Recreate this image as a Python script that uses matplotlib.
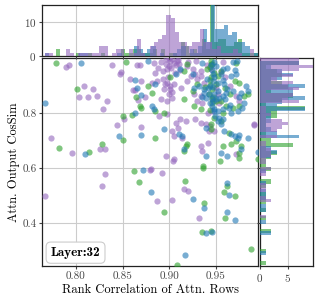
import matplotlib
matplotlib.use("Agg")
import matplotlib.pyplot as plt
import numpy as np

plt.rcParams["font.family"] = ["cmr10", "DejaVu Serif"]
plt.rcParams["axes.formatter.use_mathtext"] = True
plt.rcParams["mathtext.fontset"] = "cm"

# (rank correlation, cosine similarity) per head, three groups
purple_x = [0.884, 0.891, 0.896, 0.901, 0.905, 0.909, 0.910, 0.903, 0.907, 0.900,
            0.893, 0.898, 0.885, 0.919, 0.925, 0.928, 0.934, 0.882, 0.887, 0.893,
            0.898, 0.901, 0.905, 0.919, 0.923, 0.930, 0.934, 0.937, 0.894, 0.900,
            0.903, 0.898, 0.891, 0.901, 0.889, 0.898, 0.927, 0.934, 0.930, 0.935,
            0.952, 0.953, 0.971, 0.975, 0.941, 0.946, 0.912, 0.918, 0.907, 0.909,
            0.903, 0.905, 0.914, 0.928, 0.934, 0.939, 0.944, 0.943, 0.948, 0.991,
            0.934, 0.941, 0.935, 0.971, 0.896, 0.905,
            0.897, 0.902, 0.906, 0.899, 0.911, 0.888, 0.895, 0.903, 0.913, 0.908,
            0.900, 0.920, 0.929, 0.940, 0.945, 0.955, 0.960, 0.965, 0.950, 0.958,
            0.790, 0.793, 0.839, 0.848, 0.847, 0.866, 0.869, 0.858, 0.870, 0.809,
            0.818, 0.803, 0.813, 0.823, 0.833, 0.829, 0.861, 0.863, 0.867, 0.874,
            0.852, 0.844, 0.870, 0.773, 0.796, 0.826, 0.831, 0.831, 0.828, 0.767,
            0.879, 0.904, 0.881, 0.892, 0.916, 0.920, 0.887, 0.903, 0.932, 0.991]
purple_y = [0.983, 0.985, 0.995, 0.989, 0.983, 0.992, 0.977, 0.998, 0.973, 0.971,
            0.953, 0.959, 0.947, 0.971, 0.959, 0.940, 0.953, 0.910, 0.916, 0.922,
            0.910, 0.898, 0.904, 0.916, 0.934, 0.922, 0.934, 0.910, 0.886, 0.868,
            0.856, 0.844, 0.850, 0.886, 0.789, 0.795, 0.868, 0.862, 0.844, 0.838,
            0.868, 0.838, 0.862, 0.844, 0.801, 0.807, 0.777, 0.771, 0.765, 0.747,
            0.735, 0.717, 0.711, 0.777, 0.765, 0.759, 0.753, 0.735, 0.735, 0.759,
            0.680, 0.692, 0.662, 0.650, 0.644, 0.632,
            0.978, 0.962, 0.945, 0.930, 0.955, 0.965, 0.905, 0.875, 0.890, 0.990,
            0.999, 0.985, 0.990, 0.975, 0.960, 0.950, 0.930, 0.900, 0.890, 0.985,
            0.968, 0.973, 0.975, 0.949, 0.941, 0.973, 0.973, 0.925, 0.917, 0.900,
            0.888, 0.859, 0.859, 0.862, 0.844, 0.815, 0.883, 0.883, 0.846, 0.857,
            0.777, 0.755, 0.749, 0.710, 0.656, 0.670, 0.668, 0.578, 0.535, 0.499,
            0.595, 0.625, 0.596, 0.583, 0.526, 0.516, 0.479, 0.483, 0.419, 0.756]

blue_x = [0.907, 0.912, 0.935, 0.950, 0.957, 0.968, 0.972, 0.955, 0.966, 0.971,
          0.885, 0.927, 0.932, 0.937, 0.941, 0.952, 0.959, 0.962, 0.968, 0.977,
          0.984, 0.882, 0.884, 0.937, 0.939, 0.943, 0.944, 0.950, 0.953, 0.957,
          0.961, 0.948, 0.952, 0.957, 0.964, 0.978, 0.980, 0.966, 0.973, 0.910,
          0.914, 0.894, 0.939, 0.952, 0.955, 0.953, 0.957, 0.959, 0.966, 0.970,
          0.973, 0.975, 0.916, 0.939, 0.955, 0.962, 0.977, 0.984,
          0.945, 0.962, 0.940, 0.948, 0.958, 0.970, 0.925, 0.944, 0.952, 0.960,
          0.935, 0.947, 0.965, 0.975, 0.982,
          0.946, 0.947, 0.948, 0.946, 0.949, 0.947, 0.948, 0.947, 0.946, 0.948,
          0.806, 0.877, 0.863, 0.866, 0.870, 0.767, 0.863, 0.846, 0.870, 0.810,
          0.872, 0.880, 0.925, 0.937, 0.962, 0.964, 0.962, 0.970, 0.939, 0.946,
          0.917, 0.995]
blue_y = [0.940, 0.959, 0.983, 0.971, 0.959, 0.985, 0.989, 0.940, 0.934, 0.940,
          0.904, 0.892, 0.898, 0.886, 0.892, 0.910, 0.904, 0.886, 0.880, 0.874,
          0.880, 0.825, 0.813, 0.874, 0.856, 0.868, 0.838, 0.850, 0.856, 0.862,
          0.874, 0.813, 0.807, 0.813, 0.819, 0.819, 0.838, 0.801, 0.807, 0.723,
          0.717, 0.741, 0.747, 0.771, 0.759, 0.783, 0.777, 0.735, 0.723, 0.717,
          0.711, 0.719, 0.668, 0.644, 0.656, 0.644, 0.668, 0.711,
          0.975, 0.965, 0.925, 0.930, 0.920, 0.955, 0.940, 0.900, 0.880, 0.850,
          0.860, 0.845, 0.830, 0.860, 0.900,
          0.955, 0.915, 0.870, 0.826, 0.790, 0.940, 0.985, 0.895, 0.853, 0.808,
          0.983, 0.989, 0.919, 0.890, 0.864, 0.838, 0.801, 0.715, 0.720, 0.652,
          0.593, 0.512, 0.487, 0.457, 0.547, 0.504, 0.441, 0.411, 0.364, 0.367,
          0.286, 0.659]

green_x = [0.901, 0.919, 0.916, 0.946, 0.971, 0.955, 0.882, 0.946, 0.970, 0.975,
           0.980, 0.984, 0.916, 0.894, 0.885, 0.950, 0.955, 0.961, 0.968, 0.975,
           0.927, 0.934, 0.885, 0.948, 0.955, 0.964, 0.971, 0.977, 0.918, 0.919,
           0.916, 0.957, 0.966, 0.975, 0.975,
           0.940, 0.948, 0.944, 0.950, 0.938, 0.943, 0.947, 0.960, 0.952, 0.930,
           0.925, 0.965, 0.958, 0.945,
           0.944, 0.945, 0.946, 0.944, 0.945, 0.945, 0.944, 0.946, 0.945,
           0.779, 0.854, 0.801, 0.877, 0.864, 0.869, 0.870, 0.860, 0.851, 0.851,
           0.782, 0.814, 0.828, 0.862, 0.868, 0.936, 0.936, 0.954, 0.917, 0.894,
           0.937, 0.962, 0.959, 0.970, 0.960, 0.935, 0.945, 0.987, 0.908, 0.995]
green_y = [0.932, 0.977, 0.953, 0.977, 0.983, 0.953, 0.874, 0.886, 0.916, 0.910,
           0.862, 0.868, 0.852, 0.801, 0.807, 0.844, 0.844, 0.825, 0.819, 0.825,
           0.825, 0.813, 0.711, 0.783, 0.771, 0.729, 0.698, 0.680, 0.680, 0.686,
           0.662, 0.680, 0.686, 0.656, 0.638,
           0.960, 0.945, 0.920, 0.905, 0.895, 0.870, 0.860, 0.890, 0.935, 0.905,
           0.880, 0.870, 0.800, 0.990,
           0.968, 0.932, 0.850, 0.812, 0.760, 0.978, 0.902, 0.835, 0.742,
           0.983, 0.987, 0.888, 0.900, 0.859, 0.825, 0.818, 0.792, 0.789, 0.701,
           0.674, 0.659, 0.688, 0.589, 0.548, 0.607, 0.599, 0.627, 0.552, 0.441,
           0.474, 0.537, 0.512, 0.498, 0.418, 0.368, 0.372, 0.305, 0.247, 0.635]

groups = [
    (purple_x, purple_y, "#9467bd"),
    (green_x, green_y, "#2ca02c"),
    (blue_x, blue_y, "#1f77b4"),
]

fig = plt.figure(figsize=(3.19, 3.05), dpi=100)
ax = fig.add_axes([0.132, 0.128, 0.677, 0.682])
ax_top = fig.add_axes([0.132, 0.816, 0.677, 0.168], sharex=ax)
ax_right = fig.add_axes([0.815, 0.128, 0.166, 0.682], sharey=ax)

for xs, ys, c in groups:
    ax.scatter(xs, ys, s=20, color=c, alpha=0.6, linewidths=0, zorder=3)

for xs, ys, c in [groups[1], groups[2], groups[0]]:
    ax_top.hist(xs, bins=50, color=c, alpha=0.6, zorder=3)
    ax_right.hist(ys, bins=50, color=c, alpha=0.6, orientation="horizontal", zorder=3)

ax.set_xlim(0.764, 0.995)
ax.set_ylim(0.245, 1.0)
ax.set_xticks([0.80, 0.85, 0.90, 0.95])
ax.set_xticklabels(["0.80", "0.85", "0.90", "0.95"])
ax.set_yticks([0.4, 0.6, 0.8])
ax.set_yticklabels(["0.4", "0.6", "0.8"])
ax.set_xlabel("Rank Correlation of Attn. Rows", fontsize=9, labelpad=2)
ax.set_ylabel("Attn. Output CosSim", fontsize=9, labelpad=2)

ax_top.set_ylim(0, 14.9)
ax_top.set_yticks([0, 10])
ax_top.tick_params(axis="x", labelbottom=False, length=0)
ax_right.set_xlim(0, 9.5)
ax_right.set_xticks([0, 5])
ax_right.tick_params(axis="y", labelleft=False, length=2)

for a in (ax, ax_top, ax_right):
    a.grid(True, color="#cccccc", linewidth=0.8, zorder=0)
    a.set_axisbelow(True)
    a.tick_params(labelsize=8, length=2, pad=2, colors="#444444")
    for sp in a.spines.values():
        sp.set_color("#222222")
        sp.set_linewidth(0.9)

ax.text(0.04, 0.035, "Layer:32", transform=ax.transAxes, fontsize=9.5,
        family=["cmb10", "DejaVu Serif"], fontweight="bold", va="bottom", ha="left",
        bbox=dict(boxstyle="round,pad=0.35", facecolor="white", edgecolor="#cccccc",
                  linewidth=0.8), zorder=5)

fig.savefig("out.png", dpi=100)
